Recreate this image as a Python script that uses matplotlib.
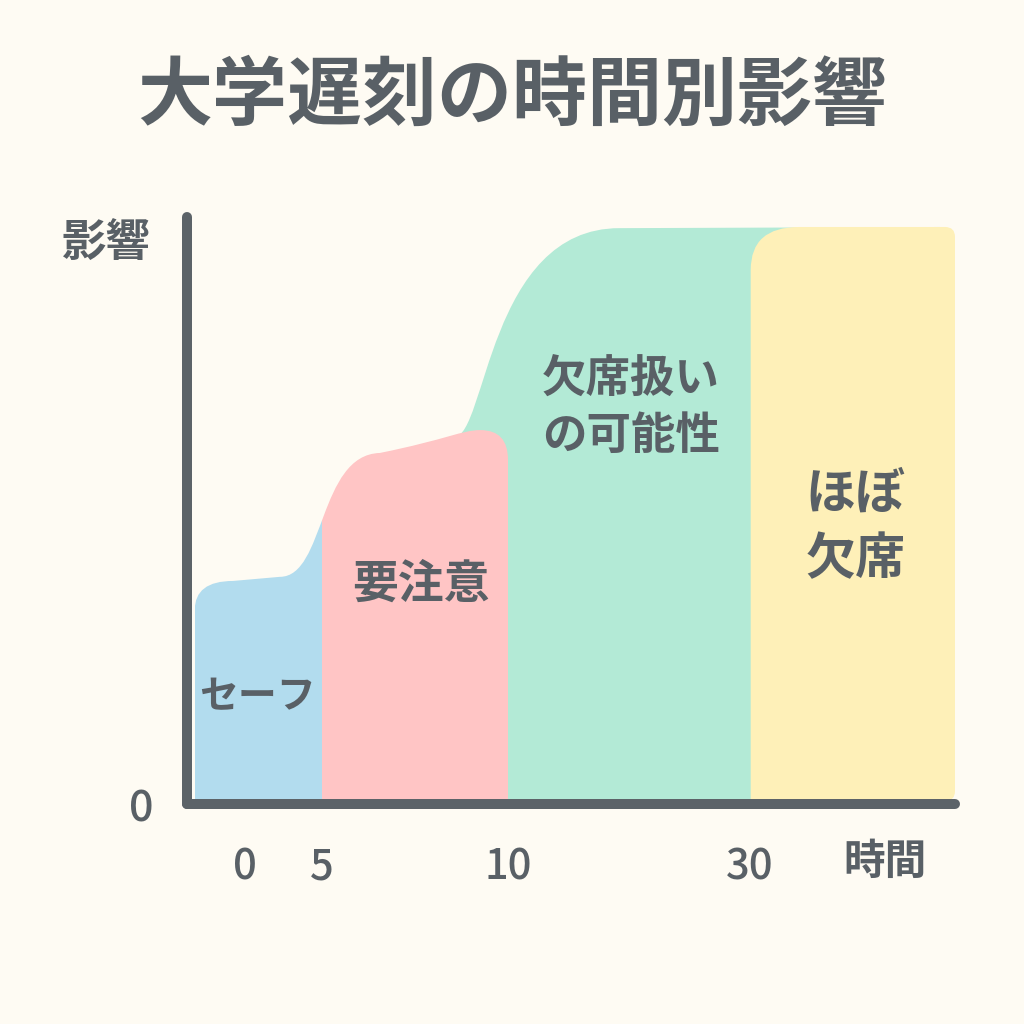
import matplotlib
matplotlib.use("Agg")
import matplotlib.pyplot as plt
from matplotlib.path import Path
from matplotlib.patches import PathPatch, Rectangle

plt.rcParams['font.family'] = ['Noto Sans CJK JP', 'DejaVu Sans']

# --- data (axis units, 0-100 on both axes) ---
labels = ["セーフ", "要注意", "欠席扱い\nの可能性", "ほぼ\n欠席"]
edges = [1.0, 17.6, 41.8, 73.4, 100.0]        # region boundaries
level_start = [38.0, 59.8, 98.1, 98.3]        # top height just after a region begins
level_end = [38.7, 63.7, 98.3, 98.3]          # top height at the region's end
colors = ["#b2dcee", "#ffc5c5", "#b3ead6", "#fef0b8"]
tick_pos = [7.6, 17.6, 41.8, 73.3]
tick_labels = ["0", "5", "10", "30"]

bg = "#fefbf3"
ink = "#596066"
axis_col = "#5c6368"

fig = plt.figure(figsize=(10.24, 10.24), dpi=100, facecolor=bg)
ax = fig.add_axes([187 / 1024, 220 / 1024, 768 / 1024, 587 / 1024])
ax.set_xlim(0, 100)
ax.set_ylim(0, 100)
ax.patch.set_visible(False)

M, L, C3, C4, Z = Path.MOVETO, Path.LINETO, Path.CURVE3, Path.CURVE4, Path.CLOSEPOLY

# blue + pink share one smooth top, each one clipped to its own band
x0, x1, x2 = edges[0], edges[1], edges[2]
env = [
    ((x0, 0), M),
    ((x0, level_start[0] - 5), L),
    ((x0, level_start[0]), C3), ((x0 + 5, level_start[0]), C3),
    ((x1 - 5.5, level_end[0]), L),
    ((x1 + 0.4, level_end[0]), C4), ((x1 - 0.5, level_start[1] - 0.3), C4),
    ((x1 + 7.5, level_start[1]), C4),
    ((x2 - 8, level_end[1] - 1.6), C4), ((x2 - 6, level_end[1]), C4),
    ((x2 - 3.6, level_end[1]), C4),
    ((x2, level_end[1]), C3), ((x2, level_end[1] - 5.1), C3),
    ((x2, 0), L),
    ((x0, 0), Z),
]
env_path = Path([v for v, c in env], [c for v, c in env])

# green sweeps up behind the pink block
g0 = edges[2] - 7
green = [
    ((g0, 0), M),
    ((g0, level_end[1] - 1.2), L),
    ((edges[2] - 2.8, level_end[1] - 1.0), C4), ((edges[2] - 2.6, level_start[2]), C4),
    ((edges[2] + 14.5, level_start[2]), C4),
    ((edges[4] - 2, level_end[2]), L),
    ((edges[4] - 2, 0), L),
    ((g0, 0), Z),
]
green_path = Path([v for v, c in green], [c for v, c in green])

# yellow block with rounded corners
y0, y1, top = edges[3], edges[4], level_start[3]
yellow = [
    ((y0, 0.5), M),
    ((y0, top - 7.3), L),
    ((y0, top), C3), ((y0 + 6.3, top), C3),
    ((y1 - 1.3, top), L),
    ((y1, top), C3), ((y1, top - 1.7), C3),
    ((y1, 2.2), L),
    ((y1, 0.5), C3), ((y1 - 1.3, 0.5), C3),
    ((y0, 0.5), Z),
]
yellow_path = Path([v for v, c in yellow], [c for v, c in yellow])

ax.add_patch(PathPatch(green_path, facecolor=colors[2], edgecolor="none", zorder=1))
for i in range(2):
    p = PathPatch(env_path, facecolor=colors[i], edgecolor="none", zorder=1.2)
    ax.add_patch(p)
    p.set_clip_path(Rectangle((edges[i], -5), edges[i + 1] - edges[i], 110,
                              transform=ax.transData))
ax.add_patch(PathPatch(yellow_path, facecolor=colors[3], edgecolor="none",
                       zorder=1.4, clip_on=False))

# region labels
ax.text(9.2, 18.2, labels[0], fontsize=28, color=ink, weight="bold",
        ha="center", va="center", zorder=3)
ax.text(30.5, 37.3, labels[1], fontsize=33, color=ink, weight="bold",
        ha="center", va="center", zorder=3)
ax.text(57.8, 67.5, labels[2], fontsize=32, color=ink, weight="bold",
        ha="center", va="center", linespacing=1.3, zorder=3)
ax.text(87.0, 47.2, labels[3], fontsize=36, color=ink, weight="bold",
        ha="center", va="center", linespacing=1.35, zorder=3)

# axes lines
for s in ["top", "right"]:
    ax.spines[s].set_visible(False)
for s in ["left", "bottom"]:
    ax.spines[s].set_linewidth(7.2)
    ax.spines[s].set_color(axis_col)
    ax.spines[s].set_capstyle("round")
    ax.spines[s].set_zorder(5)

ax.set_xticks(tick_pos, tick_labels)
ax.set_yticks([0], ["0"])
for t in ax.get_xticklabels() + ax.get_yticklabels():
    t.set_fontweight("medium")
ax.tick_params(axis="x", length=0, pad=30, labelsize=30, labelcolor=ink)
ax.tick_params(axis="y", length=0, pad=24, labelsize=31, labelcolor=ink)

ax.set_xlabel("時間", fontsize=30, color=ink, weight="bold", va="center")
ax.xaxis.set_label_coords(0.909, -0.099)
ax.set_ylabel("影響", fontsize=32, color=ink, weight="bold", rotation=0,
              ha="center", va="center")
ax.yaxis.set_label_coords(-0.105, 0.954)

fig.text(0.5, 1 - 97 / 1024, "大学遅刻の時間別影響", fontsize=54, color=ink,
         weight="bold", ha="center", va="center")

fig.savefig("out.png", dpi=100, facecolor=bg)
